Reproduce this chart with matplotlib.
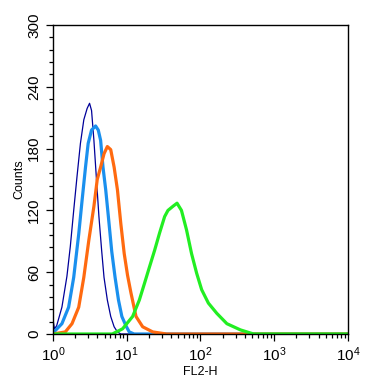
import matplotlib
matplotlib.use("Agg")
import matplotlib.pyplot as plt
import numpy as np
from matplotlib.ticker import FixedLocator, LogLocator, NullFormatter, FuncFormatter

plt.rcParams['font.family'] = ['Liberation Sans', 'DejaVu Sans']
plt.rcParams['mathtext.default'] = 'regular'

# histogram outlines: log10(FL2-H) and counts
navy_log = [0.0, 0.005, 0.02, 0.05, 0.121, 0.189, 0.235, 0.281, 0.326, 0.372, 0.418, 0.463,
            0.496, 0.523, 0.555, 0.587, 0.623, 0.66, 0.692, 0.737, 0.783, 0.829, 0.874, 0.92, 4.0]
navy_cnt = [20, 12, 5, 8, 26, 56, 85, 120, 153, 185, 208, 219,
            224, 217, 188, 153, 114, 81, 55, 33, 17, 7, 2, 0, 0]

blue_log = [0.0, 0.121, 0.212, 0.281, 0.349, 0.395, 0.441, 0.477, 0.523, 0.578, 0.614,
            0.646, 0.678, 0.715, 0.751, 0.797, 0.842, 0.888, 0.934, 0.989, 1.034, 1.1, 4.0]
blue_cnt = [1, 10, 26, 55, 97, 130, 162, 185, 198, 202, 198,
            188, 162, 140, 114, 80, 55, 33, 17, 8, 2, 0, 0]

orange_log = [0.0, 0.167, 0.258, 0.349, 0.418, 0.486, 0.555, 0.6, 0.646, 0.692, 0.737, 0.783,
              0.829, 0.874, 0.92, 0.966, 1.011, 1.057, 1.126, 1.216, 1.353, 1.54, 4.0]
orange_cnt = [0, 2, 10, 26, 55, 91, 124, 150, 162, 175, 182, 179,
              162, 140, 107, 78, 57, 40, 17, 7, 2, 0, 0]

green_log = [0.0, 0.805, 0.943, 1.08, 1.171, 1.24, 1.308, 1.377, 1.445, 1.514, 1.559, 1.627,
             1.682, 1.742, 1.811, 1.879, 1.948, 2.016, 2.107, 2.222, 2.358, 2.541, 2.72, 4.0]
green_cnt = [0, 0, 5, 17, 33, 49, 65, 81, 98, 114, 120, 124,
             127, 120, 101, 78, 59, 43, 30, 20, 10, 4, 0, 0]

fig = plt.figure(figsize=(3.91, 3.91), dpi=100)
ax = fig.add_axes([0.1355, 0.1458, 0.7545, 0.7902])

ax.plot(10 ** np.array(navy_log), navy_cnt, color='#000099', lw=0.9)
ax.plot(10 ** np.array(blue_log), blue_cnt, color='#1a90ee', lw=2.3)
ax.plot(10 ** np.array(orange_log), orange_cnt, color='#ff6a10', lw=2.3)
ax.plot(10 ** np.array(green_log), green_cnt, color='#22ee22', lw=2.3)

ax.set_xscale('log')
ax.set_xlim(1, 1e4)
ax.set_ylim(0, 300)

ax.xaxis.set_major_locator(LogLocator(base=10, numticks=10))
ax.xaxis.set_minor_locator(LogLocator(base=10, subs=np.arange(2, 10), numticks=10))
ax.xaxis.set_minor_formatter(NullFormatter())
ax.xaxis.set_major_formatter(FuncFormatter(lambda v, p: r'$10^{%d}$' % round(np.log10(v))))

ax.yaxis.set_major_locator(FixedLocator([0, 60, 120, 180, 240, 300]))
ax.yaxis.set_minor_locator(FixedLocator(np.arange(0, 301, 12)))

ax.tick_params(which='both', direction='out', top=False, right=False, width=0.9)
ax.tick_params(which='major', length=5, labelsize=11)
ax.tick_params(which='minor', length=3)
for lab in ax.get_yticklabels():
    lab.set_rotation(90)
    lab.set_va('center')

for s in ax.spines.values():
    s.set_linewidth(1.0)

ax.set_ylabel('Counts', fontsize=9, labelpad=1)
ax.set_xlabel('FL2-H', fontsize=9, labelpad=1)

fig.savefig('out.png', dpi=100)
